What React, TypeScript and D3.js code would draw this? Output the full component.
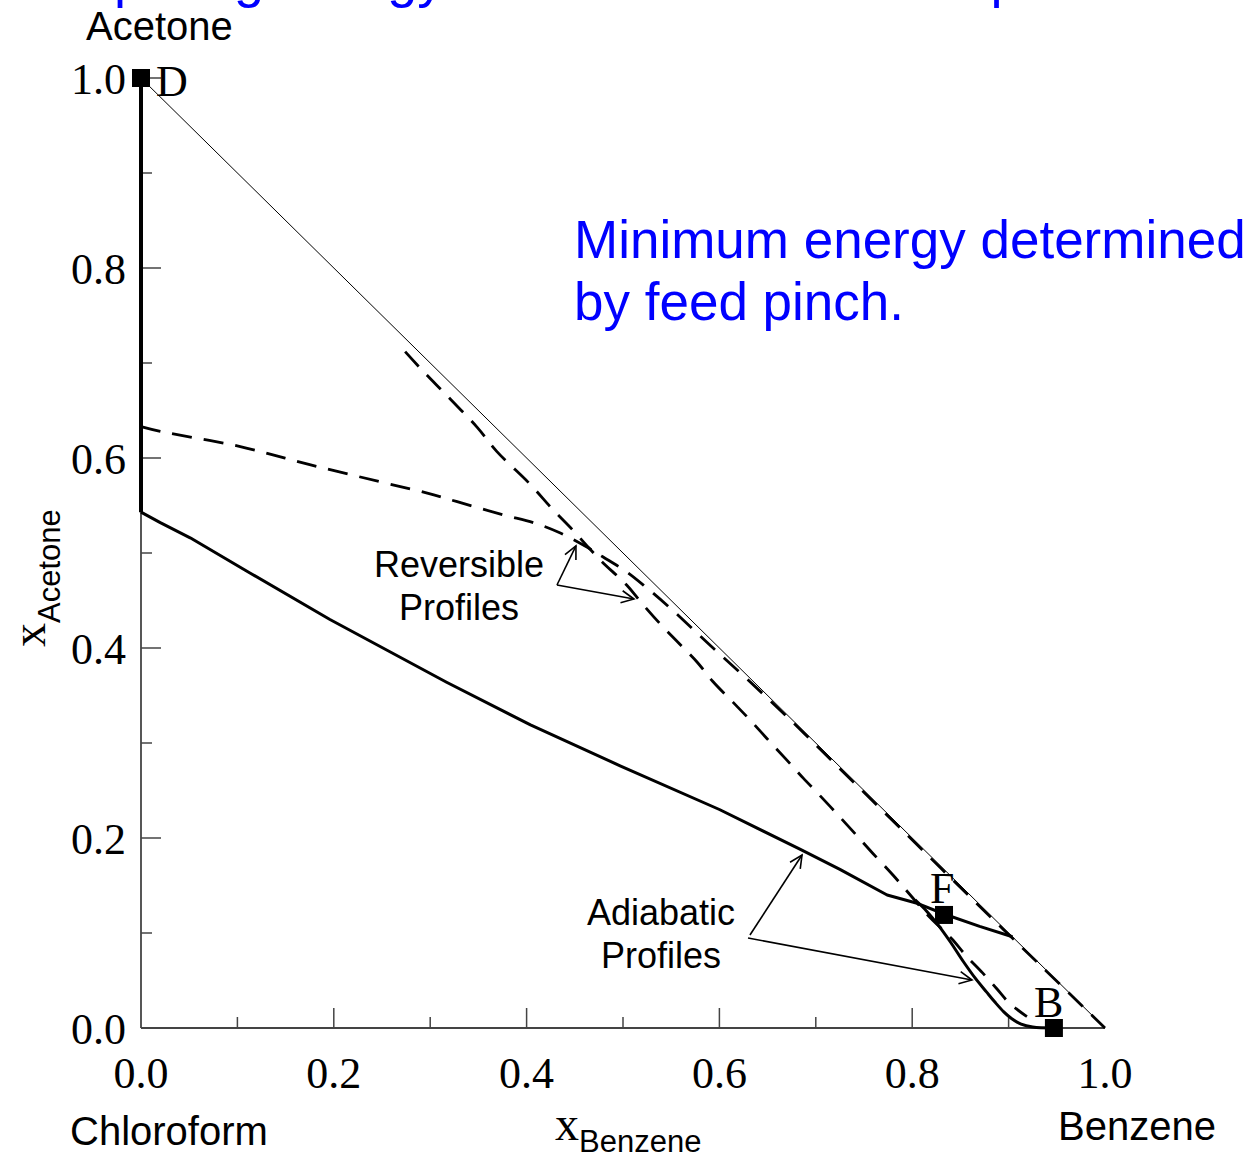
import React from "react";
import * as d3 from "d3";

// ---------- data (mole fractions: [xBenzene, xAcetone]) ----------
const xTickValues = [0, 0.2, 0.4, 0.6, 0.8, 1.0];
const xTickLabels = ["0.0", "0.2", "0.4", "0.6", "0.8", "1.0"];
const yTickValues = [0, 0.2, 0.4, 0.6, 0.8, 1.0];
const yTickLabels = ["0.0", "0.2", "0.4", "0.6", "0.8", "1.0"];
const minorTickValues = [0.1, 0.3, 0.5, 0.7, 0.9];

const pointD: [number, number] = [0, 1.0];
const pointF: [number, number] = [0.833, 0.119];
const pointB: [number, number] = [0.947, 0.0];

// triangle hypotenuse (x_B + x_A = 1)
const hypotenuse: [number, number][] = [[0, 1], [1, 0]];

// adiabatic rectifying profile (D down the axis, then to the feed region)
const adiabaticRect: [number, number][] = [
  [0, 1.0], [0, 0.543], [0.02, 0.532], [0.051, 0.516], [0.113, 0.479], [0.196, 0.43],
  [0.317, 0.364], [0.404, 0.319], [0.497, 0.276], [0.6, 0.23], [0.684, 0.188],
  [0.725, 0.167], [0.774, 0.14], [0.806, 0.131], [0.833, 0.12], [0.87, 0.107], [0.904, 0.096],
];

// adiabatic stripping profile (from B up to the pinch)
const adiabaticStrip: [number, number][] = [
  [0.947, 0.0], [0.925, 0.001], [0.913, 0.004], [0.903, 0.01], [0.895, 0.017],
  [0.886, 0.027], [0.877, 0.038], [0.865, 0.053], [0.853, 0.07], [0.84, 0.09],
  [0.828, 0.107], [0.815, 0.123], [0.803, 0.135],
];

// reversible profile A (from the acetone axis to the benzene corner)
const reversibleA: [number, number][] = [
  [0, 0.633], [0.02, 0.628], [0.103, 0.612], [0.175, 0.593], [0.248, 0.575],
  [0.297, 0.563], [0.328, 0.554], [0.376, 0.54], [0.407, 0.532], [0.435, 0.521],
  [0.463, 0.506], [0.479, 0.496], [0.504, 0.48], [0.525, 0.463], [0.549, 0.442],
  [0.587, 0.406], [0.629, 0.367], [0.676, 0.322], [0.725, 0.273], [0.795, 0.203],
  [0.863, 0.135], [0.933, 0.066], [1.0, 0.0],
];

// reversible profile B (from near the hypotenuse down to B)
const reversibleB: [number, number][] = [
  [0.274, 0.712], [0.293, 0.691], [0.317, 0.666], [0.349, 0.632], [0.369, 0.607],
  [0.404, 0.572], [0.427, 0.546], [0.448, 0.524], [0.464, 0.506], [0.478, 0.491],
  [0.504, 0.466], [0.518, 0.449], [0.538, 0.426], [0.559, 0.404], [0.577, 0.385],
  [0.593, 0.365], [0.614, 0.343], [0.632, 0.324], [0.649, 0.305], [0.67, 0.282],
  [0.687, 0.263], [0.704, 0.245], [0.725, 0.222], [0.743, 0.202], [0.759, 0.184],
  [0.78, 0.161], [0.798, 0.14], [0.816, 0.119], [0.841, 0.094], [0.856, 0.076],
  [0.873, 0.058], [0.888, 0.041], [0.901, 0.026], [0.919, 0.012],
];

// annotation arrows: [tail, head]
const arrows: [[number, number], [number, number]][] = [
  [[0.4315, 0.4663], [0.4512, 0.5074]],
  [[0.4315, 0.4663], [0.5114, 0.4516]],
  [[0.6317, 0.0979], [0.6857, 0.1821]],
  [[0.6297, 0.0947], [0.862, 0.0505]],
];

const SERIF = "'Liberation Serif', 'Times New Roman', serif";
const SANS = "'Liberation Sans', Arial, sans-serif";

export default function App() {
  const W = 1251;
  const H = 1159;
  const x = d3.scaleLinear().domain([0, 1]).range([141, 1105]);
  const y = d3.scaleLinear().domain([0, 1]).range([1028, 78]);

  const lineLin = d3
    .line<[number, number]>()
    .x((d) => x(d[0]))
    .y((d) => y(d[1]));
  const lineCurve = d3
    .line<[number, number]>()
    .x((d) => x(d[0]))
    .y((d) => y(d[1]))
    .curve(d3.curveCatmullRom.alpha(0.5));

  const square = (p: [number, number], key: string) => (
    <rect key={key} x={x(p[0]) - 9} y={y(p[1]) - 9} width={18} height={18} fill="#000" />
  );

  const arrowEls = arrows.map(([t, h], i) => {
    const x1 = x(t[0]), y1 = y(t[1]), x2 = x(h[0]), y2 = y(h[1]);
    const ang = Math.atan2(y2 - y1, x2 - x1);
    const L = 14, spread = 0.45;
    const a1 = [x2 - L * Math.cos(ang - spread), y2 - L * Math.sin(ang - spread)];
    const a2 = [x2 - L * Math.cos(ang + spread), y2 - L * Math.sin(ang + spread)];
    return (
      <g key={"arr" + i} stroke="#000" strokeWidth={1.6} fill="none">
        <line x1={x1} y1={y1} x2={x2} y2={y2} />
        <polyline points={`${a1[0]},${a1[1]} ${x2},${y2} ${a2[0]},${a2[1]}`} />
      </g>
    );
  });

  return (
    <svg
      width={W}
      height={H}
      style={{ position: "absolute", left: 0, top: 0, background: "#fff" }}
    >
      <rect x={0} y={0} width={W} height={H} fill="#fff" />

      {/* cut-off title line at the top */}
      <text x={0} y={-3} fontFamily={SANS} fontSize={54} fill="#0000ff">
        Comparing energy demands at minimum pinch
      </text>

      {/* axes */}
      <line x1={x(0)} y1={y(0)} x2={x(1)} y2={y(0)} stroke="#444" strokeWidth={1.8} />
      <line x1={x(0)} y1={y(0)} x2={x(0)} y2={y(1)} stroke="#444" strokeWidth={1.8} />
      {xTickValues.slice(1, 5).map((v) => (
        <line key={"xt" + v} x1={x(v)} x2={x(v)} y1={y(0)} y2={y(0) - 20} stroke="#444" strokeWidth={1.5} />
      ))}
      {minorTickValues.map((v) => (
        <line key={"xm" + v} x1={x(v)} x2={x(v)} y1={y(0)} y2={y(0) - 11} stroke="#444" strokeWidth={1.5} />
      ))}
      {yTickValues.map((v) => (
        <line key={"yt" + v} x1={x(0)} x2={x(0) + 20} y1={y(v)} y2={y(v)} stroke="#444" strokeWidth={1.5} />
      ))}
      {minorTickValues.map((v) => (
        <line key={"ym" + v} x1={x(0)} x2={x(0) + 11} y1={y(v)} y2={y(v)} stroke="#444" strokeWidth={1.5} />
      ))}

      {/* tick labels */}
      {xTickValues.map((v, i) => (
        <text key={"xl" + v} x={x(v)} y={y(0) + 60} textAnchor="middle" fontFamily={SERIF} fontSize={44} fill="#000">
          {xTickLabels[i]}
        </text>
      ))}
      {yTickValues.map((v, i) => (
        <text key={"yl" + v} x={126} y={y(v) + 16} textAnchor="end" fontFamily={SERIF} fontSize={44} fill="#000">
          {yTickLabels[i]}
        </text>
      ))}

      {/* hypotenuse */}
      <path d={lineLin(hypotenuse) || ""} stroke="#000" strokeWidth={1} fill="none" />

      {/* reversible profiles */}
      <path d={lineCurve(reversibleA) || ""} stroke="#000" strokeWidth={2.8} fill="none" strokeDasharray="20 12" />
      <path d={lineCurve(reversibleB) || ""} stroke="#000" strokeWidth={2.8} fill="none" strokeDasharray="20 12" />

      {/* adiabatic profiles */}
      <path d={lineLin(adiabaticRect.slice(0, 2)) || ""} stroke="#000" strokeWidth={4} fill="none" />
      <path d={lineLin(adiabaticRect.slice(1)) || ""} stroke="#000" strokeWidth={3} fill="none" strokeLinejoin="round" />
      <path d={lineCurve(adiabaticStrip) || ""} stroke="#000" strokeWidth={3} fill="none" />

      {/* points */}
      {square(pointD, "D")}
      {square(pointF, "F")}
      {square(pointB, "B")}
      <text x={x(pointD[0]) + 15} y={y(pointD[1]) + 18} fontFamily={SERIF} fontSize={44} fill="#000">D</text>
      <text x={x(pointF[0]) - 14} y={y(pointF[1]) - 12} fontFamily={SERIF} fontSize={44} fill="#000">F</text>
      <text x={x(pointB[0]) - 20} y={y(pointB[1]) - 11} fontFamily={SERIF} fontSize={44} fill="#000">B</text>

      {/* annotations */}
      {arrowEls}
      <text x={459} y={577} textAnchor="middle" fontFamily={SANS} fontSize={36} fill="#000">Reversible</text>
      <text x={459} y={620} textAnchor="middle" fontFamily={SANS} fontSize={36} fill="#000">Profiles</text>
      <text x={661} y={925} textAnchor="middle" fontFamily={SANS} fontSize={36} fill="#000">Adiabatic</text>
      <text x={661} y={968} textAnchor="middle" fontFamily={SANS} fontSize={36} fill="#000">Profiles</text>

      <text x={574} y={258} fontFamily={SANS} fontSize={53} fill="#0000ff">Minimum energy determined</text>
      <text x={574} y={320} fontFamily={SANS} fontSize={53} fill="#0000ff">by feed pinch.</text>

      {/* corner labels */}
      <text x={86} y={40} fontFamily={SANS} fontSize={40} fill="#000">Acetone</text>
      <text x={70} y={1145} fontFamily={SANS} fontSize={40} fill="#000">Chloroform</text>
      <text x={1058} y={1140} fontFamily={SANS} fontSize={40} fill="#000">Benzene</text>

      {/* axis titles */}
      <text x={555} y={1140} fontFamily={SERIF} fontSize={48} fill="#000">
        x
        <tspan fontFamily={SANS} fontSize={31} dy={12}>Benzene</tspan>
      </text>
      <text transform="translate(45,647) rotate(-90)" fontFamily={SERIF} fontSize={48} fill="#000">
        x
        <tspan fontFamily={SANS} fontSize={31} dy={15}>Acetone</tspan>
      </text>
    </svg>
  );
}
